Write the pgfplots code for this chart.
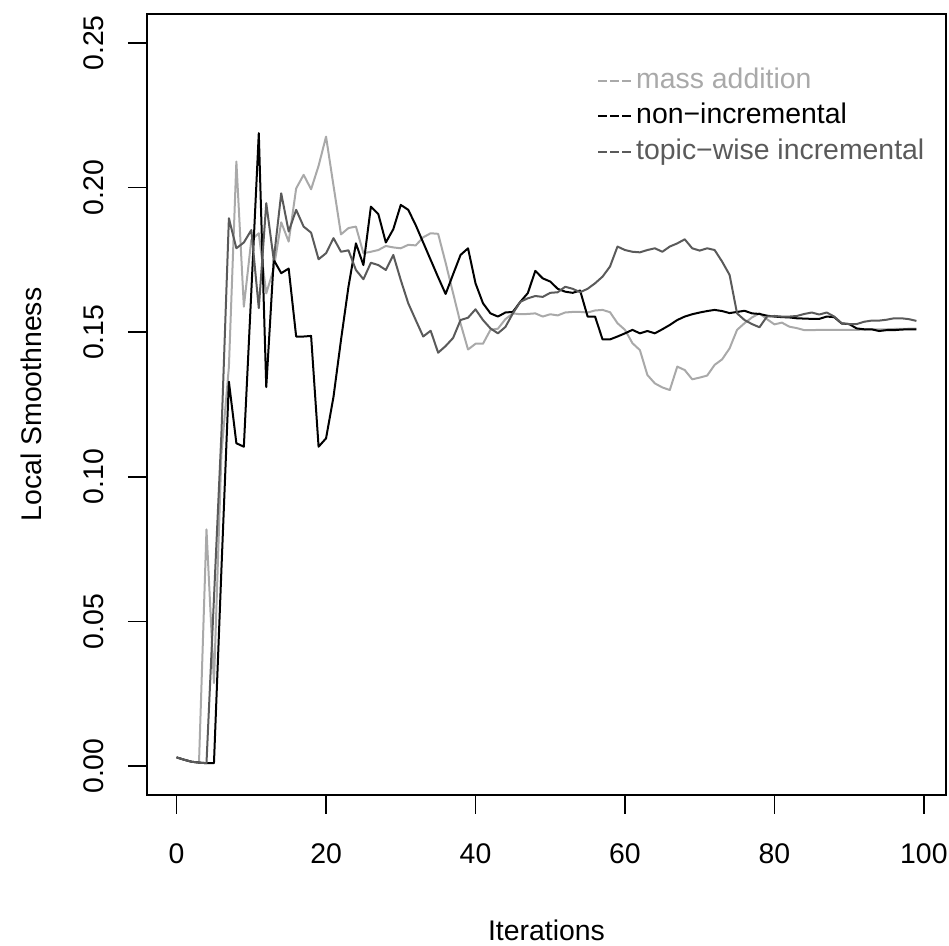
\documentclass[border=0pt]{standalone}
\usepackage{fontspec}
\setmainfont{Liberation Sans}
\usepackage{pgfplots}
\pgfplotsset{compat=1.18}
\usepackage{pgfplotstable}
\definecolor{lg}{HTML}{A9A9A9}
\definecolor{dg}{HTML}{5A5A5A}
\pgfplotstableread{
it mass non topic
0 0.0030 0.0030 0.0030
1 0.0022 0.0022 0.0022
2 0.0015 0.0015 0.0015
3 0.0012 0.0012 0.0012
4 0.0818 0.0010 0.0010
5 0.0287 0.0010 0.0580
6 0.1080 0.0680 0.1150
7 0.1380 0.1329 0.1894
8 0.2090 0.1116 0.1790
9 0.1588 0.1104 0.1810
10 0.1819 0.1640 0.1853
11 0.1842 0.2188 0.1583
12 0.1634 0.1310 0.1946
13 0.1720 0.1750 0.1750
14 0.1880 0.1704 0.1980
15 0.1813 0.1720 0.1848
16 0.1997 0.1485 0.1923
17 0.2044 0.1485 0.1865
18 0.1994 0.1487 0.1844
19 0.2075 0.1104 0.1752
20 0.2176 0.1133 0.1773
21 0.2006 0.1277 0.1825
22 0.1838 0.1473 0.1778
23 0.1860 0.1657 0.1783
24 0.1865 0.1807 0.1715
25 0.1773 0.1732 0.1683
26 0.1778 0.1934 0.1740
27 0.1784 0.1908 0.1732
28 0.1798 0.1810 0.1715
29 0.1793 0.1856 0.1767
30 0.1790 0.1940 0.1680
31 0.1802 0.1923 0.1600
32 0.1800 0.1870 0.1542
33 0.1828 0.1810 0.1485
34 0.1842 0.1750 0.1505
35 0.1840 0.1690 0.1429
36 0.1740 0.1632 0.1452
37 0.1635 0.1700 0.1480
38 0.1530 0.1767 0.1542
39 0.1440 0.1790 0.1550
40 0.1460 0.1669 0.1579
41 0.1460 0.1600 0.1542
42 0.1508 0.1565 0.1513
43 0.1512 0.1554 0.1496
44 0.1545 0.1568 0.1518
45 0.1565 0.1570 0.1565
46 0.1562 0.1605 0.1605
47 0.1563 0.1635 0.1617
48 0.1565 0.1712 0.1625
49 0.1554 0.1686 0.1622
50 0.1562 0.1675 0.1636
51 0.1558 0.1650 0.1638
52 0.1568 0.1640 0.1657
53 0.1570 0.1636 0.1650
54 0.1570 0.1644 0.1638
55 0.1568 0.1554 0.1650
56 0.1575 0.1554 0.1669
57 0.1577 0.1475 0.1692
58 0.1569 0.1475 0.1727
59 0.1531 0.1485 0.1796
60 0.1508 0.1496 0.1784
61 0.1462 0.1508 0.1778
62 0.1438 0.1496 0.1776
63 0.1352 0.1504 0.1784
64 0.1323 0.1496 0.1790
65 0.1309 0.1510 0.1778
66 0.1300 0.1525 0.1796
67 0.1381 0.1542 0.1807
68 0.1369 0.1554 0.1821
69 0.1337 0.1562 0.1790
70 0.1343 0.1568 0.1782
71 0.1350 0.1573 0.1790
72 0.1387 0.1577 0.1784
73 0.1406 0.1573 0.1744
74 0.1444 0.1566 0.1698
75 0.1508 0.1570 0.1565
76 0.1531 0.1574 0.1542
77 0.1551 0.1565 0.1528
78 0.1565 0.1563 0.1517
79 0.1545 0.1557 0.1554
80 0.1527 0.1554 0.1556
81 0.1533 0.1552 0.1554
82 0.1519 0.1551 0.1554
83 0.1514 0.1548 0.1556
84 0.1507 0.1547 0.1563
85 0.1507 0.1546 0.1568
86 0.1508 0.1546 0.1561
87 0.1508 0.1554 0.1568
88 0.1508 0.1552 0.1554
89 0.1508 0.1530 0.1531
90 0.1508 0.1528 0.1528
91 0.1508 0.1513 0.1528
92 0.1509 0.1510 0.1536
93 0.1510 0.1510 0.1540
94 0.1510 0.1504 0.1540
95 0.1510 0.1507 0.1543
96 0.1511 0.1507 0.1548
97 0.1511 0.1509 0.1548
98 0.1512 0.1510 0.1545
99 0.1512 0.1510 0.1539
}\data
\newcommand{\fs}{\fontsize{14.2}{17}\selectfont}
\begin{document}
\begin{tikzpicture}
\begin{axis}[
  at={(0,0)}, anchor=south west,
  scale only axis, width=399.5pt, height=390.5pt,
  xmin=-3.96, xmax=102.96, ymin=-0.01, ymax=0.26,
  xtick={0,20,40,60,80,100},
  ytick={0,0.05,0.1,0.15,0.2,0.25},
  tick align=outside, xtick pos=left, ytick pos=left,
  major tick length=9.5pt,
  axis line style={line width=0.75pt},
  every tick/.style={black, line width=0.75pt},
  /pgf/number format/assume math mode=true,
  xticklabel style={font=\fs, anchor=center, yshift=-20pt},
  yticklabel style={font=\fs, xshift=-17pt, rotate=90, anchor=center,
    /pgf/number format/fixed, /pgf/number format/fixed zerofill, /pgf/number format/precision=2},
  xlabel={Iterations}, ylabel={Local Smoothness},
  xlabel style={font=\fs, at={(axis description cs:0.5,0)}, anchor=center, yshift=-67.5pt},
  ylabel style={font=\fs, at={([xshift=-58pt]axis description cs:0,0.5)}, anchor=center},
  legend style={at={(axis description cs:0.563,0.869)}, anchor=west, draw=none, fill=none,
    inner sep=0pt, font=\fs, row sep=3.25pt, column sep=2pt,
    nodes={inner sep=0pt, text height=11pt, text depth=3.5pt}},
  legend cell align=left,
  legend image code/.code={\draw[#1, dash pattern=on 4.5pt off 1.5pt] (0pt,0pt) -- (16.5pt,0pt);},
  every axis plot/.append style={line width=1pt, line join=round},
]
\addplot[lg, no marks] table[x=it, y=mass] {\data};
\addlegendentry{\textcolor{lg}{mass addition}}
\addplot[black, no marks] table[x=it, y=non] {\data};
\addlegendentry{\textcolor{black}{non−incremental}}
\addplot[dg, no marks] table[x=it, y=topic] {\data};
\addlegendentry{\textcolor{dg}{topic−wise incremental}}
\end{axis}
\pgfresetboundingbox
\path[use as bounding box] (-73.5pt,-75.5pt) rectangle (401pt,397.5pt);
\end{tikzpicture}
\end{document}
